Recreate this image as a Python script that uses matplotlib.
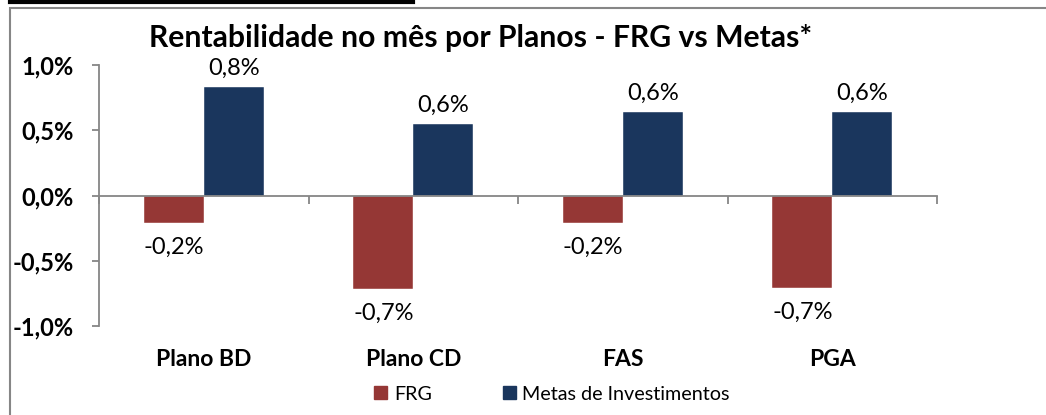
import matplotlib
matplotlib.use("Agg")
import matplotlib.pyplot as plt
from matplotlib.patches import Rectangle
from matplotlib.lines import Line2D
import numpy as np

plt.rcParams['font.family'] = ['Lato', 'DejaVu Sans']

categories = ["Plano BD", "Plano CD", "FAS", "PGA"]
frg = [-0.21, -0.72, -0.21, -0.71]
metas = [0.83, 0.55, 0.64, 0.64]
series_names = ["FRG", "Metas de Investimentos"]
yticks = [-1.0, -0.5, 0.0, 0.5, 1.0]
title = "Rentabilidade no mês por Planos - FRG vs Metas*"

c_frg = "#953735"
c_metas = "#1A365D"
gray = "#868686"

W, H = 1046, 415
fig = plt.figure(figsize=(W/100, H/100), dpi=100)
ax = fig.add_axes([99/W, 1-326/H, (937-99)/W, (326-65)/H])

x = np.arange(len(categories))
bw = 0.286
b1 = ax.bar(x - bw/2, frg, bw, color=c_frg, edgecolor='white', linewidth=0.3)
b2 = ax.bar(x + bw/2, metas, bw, color=c_metas, edgecolor='white', linewidth=0.3)

def fmt(v):
    return f"{v:.1f}%".replace(".", ",")

for rects, vals in ((b1, frg), (b2, metas)):
    for r, v in zip(rects, vals):
        cx = r.get_x() + r.get_width()/2
        if v >= 0:
            ax.annotate(fmt(v), (cx, v), xytext=(0, 13.5), textcoords='offset points',
                        ha='center', va='center', fontsize=17)
        else:
            ax.annotate(fmt(v), (cx, v), xytext=(0, -17.5), textcoords='offset points',
                        ha='center', va='center', fontsize=17)

ax.set_xlim(-0.5, len(categories) - 0.5)
ax.set_ylim(-1.0, 1.0)
ax.set_yticks(yticks)
ax.set_yticklabels([fmt(t) for t in yticks], fontsize=17, fontweight='bold')
ax.tick_params(axis='y', length=5, width=1.3, color=gray, pad=13)

ax.set_xticks(np.arange(len(categories) + 1) - 0.5)
ax.set_xticklabels([])
ax.tick_params(axis='x', length=6, width=1.3, color=gray, direction='out')

for s in ('top', 'right'):
    ax.spines[s].set_visible(False)
ax.spines['left'].set_color(gray)
ax.spines['left'].set_linewidth(1.3)
ax.spines['bottom'].set_position(('data', 0))
ax.spines['bottom'].set_color(gray)
ax.spines['bottom'].set_linewidth(1.3)

for i, c in enumerate(categories):
    ax.text(i, -1.26, c, ha='center', va='center', fontsize=16.5, fontweight='bold')

fig.text(481/W, 1-38/H, title, ha='center', va='center', fontsize=21.7, fontweight='bold')

handles = [Rectangle((0, 0), 1, 1, color=c_frg), Rectangle((0, 0), 1, 1, color=c_metas)]
fig.legend(handles, series_names, loc='center', bbox_to_anchor=(552/W, 1-394/H),
           ncol=2, frameon=False, fontsize=14.2, handlelength=0.65, handleheight=0.65,
           handletextpad=0.35, columnspacing=3.6)

fig.patches.append(Rectangle((10/W, -0.1), 1.2, 1-8/H+0.1, transform=fig.transFigure,
                             fill=False, edgecolor=gray, linewidth=1.5))
fig.lines.append(Line2D([10/W, 413/W], [1-2/H, 1-2/H], transform=fig.transFigure,
                        color='black', linewidth=3))

fig.savefig("out.png", dpi=100)
